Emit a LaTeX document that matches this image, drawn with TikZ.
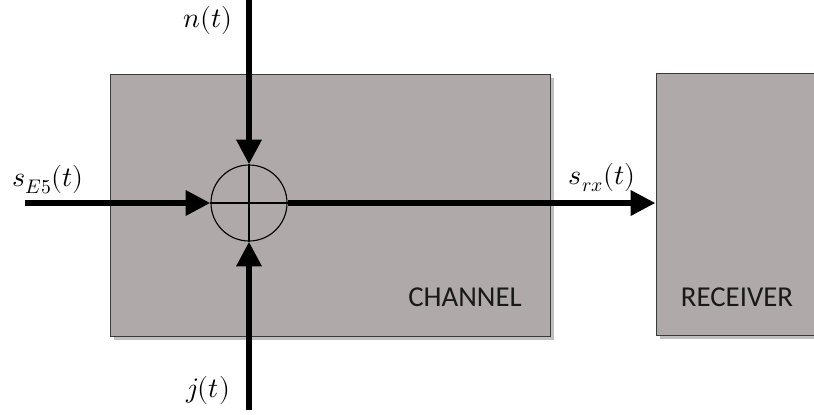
\documentclass[tikz,border=0pt]{standalone}
\usepackage{fontspec}
\usepackage{unicode-math}
\setmathfont{Latin Modern Math}
\setsansfont{Carlito}
\usetikzlibrary{arrows.meta, shadows, positioning}
\definecolor{chanfill}{HTML}{AFAAA9}
\definecolor{chanline}{HTML}{3A3A3A}
\definecolor{sigink}{HTML}{000000}
\newcommand{\sigfont}{\fontsize{20}{24}\selectfont}
\tikzset{
  blockbox/.style={
    draw=chanline,
    fill=chanfill,
    line width=0.7pt,
    minimum height=6.55cm,
    drop shadow={shadow xshift=0.1cm, shadow yshift=-0.1cm, opacity=0.25, fill=black}
  },
  sumnode/.style={
    circle,
    draw=sigink,
    line width=0.8pt,
    minimum size=1.9cm,
    inner sep=0pt
  },
  sigarrow/.style={
    -{Triangle[length=0.62cm,width=0.6cm]},
    line width=0.16cm,
    draw=sigink
  },
  siglabel/.style={
    font=\sigfont,
    inner sep=1pt
  },
  blocklabel/.style={
    font=\sffamily\fontsize{20.5}{24}\selectfont,
    text=black!90
  }
}

\begin{document}
\begin{tikzpicture}[x=1cm,y=1cm]
\clip (0,0) rectangle (20.35,10.35);

\node[blockbox, minimum width=11cm] (channel) at (8.25,5.225) {};
\node[blockbox, minimum width=4.35cm] (rx) at (18.575,5.25) {};

\node[sumnode] (sum) at (6.225,5.275) {};
\draw[line width=0.8pt] (sum.north) -- (sum.south);
\draw[line width=0.8pt] (sum.west) -- (sum.east);

\coordinate (sin) at (0.625,5.275);
\coordinate (ntop) at (6.225,10.45);
\coordinate (jbot) at (6.225,0.1);

\draw[sigarrow] (sin) -- (sum.west);
\draw[sigarrow] (ntop) -- (sum.north);
\draw[sigarrow] (jbot) -- (sum.south);
\draw[sigarrow] (sum.east) -- (sum.east -| rx.west);

\node[siglabel] (nlab) at (5.2,9.85) {$n(t)$};
\node[siglabel] (jlab) at (5.2,0.6) {$j(t)$};
\node[siglabel] (slab) at (1.2,5.85) {$s_{E5}(t)$};
\node[siglabel] (rxlab) at (15.05,5.9) {$s_{rx}(t)$};

\node[blocklabel] (chantext) at (11.625,2.925) {CHANNEL};
\node[blocklabel] (rxtext) at (18.425,2.925) {RECEIVER};
\end{tikzpicture}
\end{document}
